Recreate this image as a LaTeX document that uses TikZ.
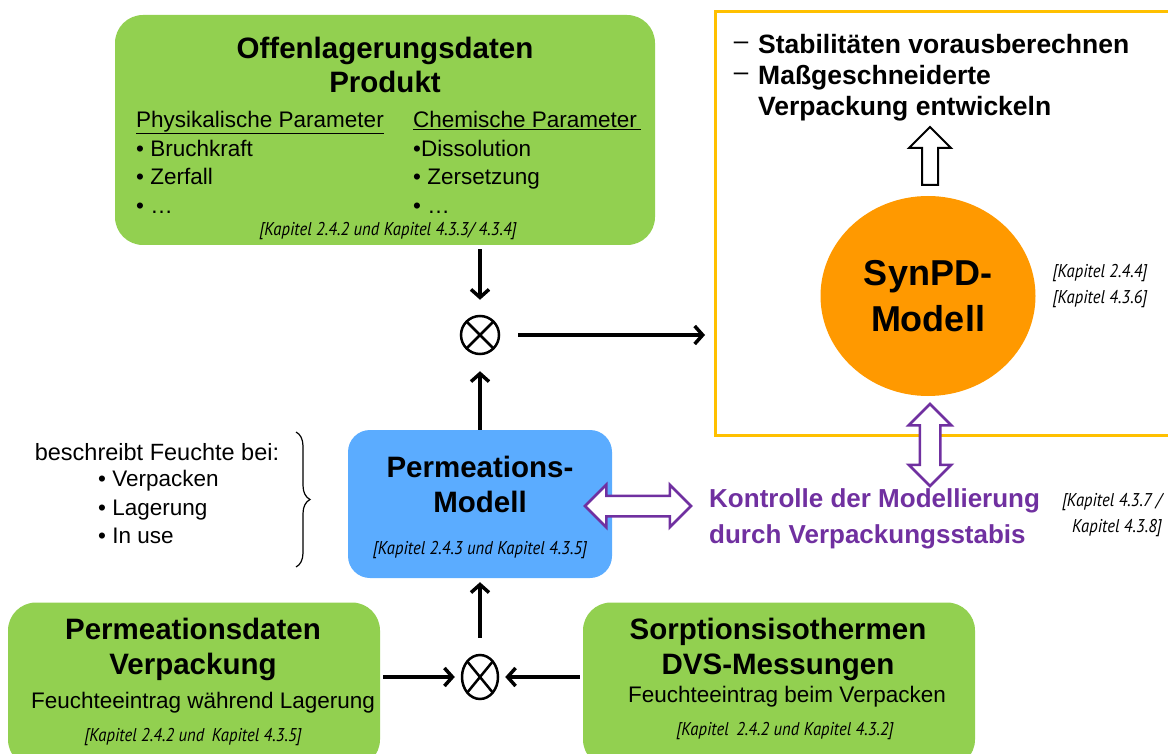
\documentclass[tikz,border=0pt]{standalone}
\usepackage{fontspec}
\setmainfont{Liberation Sans}
\newfontfamily\kapfont{PT Sans}[FakeStretch=0.9]
\usetikzlibrary{arrows.meta,shapes.geometric,shapes.arrows,decorations.pathreplacing}

\definecolor{boxgreen}{RGB}{146,208,80}
\definecolor{boxblue}{RGB}{91,172,255}
\definecolor{synorange}{RGB}{255,153,0}
\definecolor{rahmengelb}{RGB}{255,192,0}
\definecolor{kontrollila}{RGB}{112,48,160}

\tikzset{
	box/.style={rectangle, rounded corners=28pt},
	titel/.style={font=\bfseries\fontsize{29.5}{34}\selectfont, align=center},
	titelgross/.style={font=\bfseries\fontsize{29.5}{35}\selectfont, align=center},
	normal/.style={font=\fontsize{22.5}{28.5}\selectfont},
	kapitel/.style={font=\kapfont\itshape\fontsize{18.5}{26}\selectfont, align=center},
	fluss/.style={line width=3.5pt, -{Straight Barb[length=8pt,width=18pt]}},
	mal/.style={draw, line width=2.5pt, inner sep=0pt,
		path picture={\draw[line width=2.5pt] (path picture bounding box.north west) -- (path picture bounding box.south east)
			(path picture bounding box.north east) -- (path picture bounding box.south west);}},
	hohlpfeil/.style={single arrow, draw, line width=2pt, fill=white, inner sep=7pt, single arrow head extend=13pt},
	lilapfeil/.style={double arrow, draw=kontrollila, line width=2.5pt, fill=white, inner sep=9pt, double arrow head extend=11pt}
}

\begin{document}
\begin{tikzpicture}[x=1pt, y=-1pt]
	\useasboundingbox (0,0) rectangle (1168,754);
	\clip (0,0) rectangle (1168,754);
	% Offenlagerung
	\node[box, fill=boxgreen, minimum width=540pt, minimum height=230pt] (offen) at (385,130) {};
	\node[titel] (offentitel) at (385,65) {Offenlagerungsdaten\\Produkt};
	\node[normal, anchor=north west, inner sep=0pt, align=left] (phys) at (136,111) {\underline{Physikalische Parameter}\\• Bruchkraft\\• Zerfall\\• …};
	\node[normal, anchor=north west, inner sep=0pt, align=left] (chem) at (413,111) {\underline{Chemische Parameter\,}\\•Dissolution\\• Zersetzung\\• …};
	\node[kapitel] (kapoffen) at (388,231) {[Kapitel 2.4.2 und Kapitel 4.3.3/ 4.3.4]};
	% SynPD
	\draw[rahmengelb, line width=3pt] (1172,12) -| (715,435) -- (1172,435);
	\coordinate (rahmenlinks) at (715,335);
	\node[font=\fontsize{26}{31}\selectfont] (strich1) at (741,46) {--};
	\node[font=\fontsize{26}{31}\selectfont] (strich2) at (741,77) {--};
	\node[anchor=north west, inner sep=0pt, font=\bfseries\fontsize{26.5}{31}\selectfont, align=left] (ziele) at (758,34) {Stabilitäten vorausberechnen\\Maßgeschneiderte\\Verpackung entwickeln};
	\node[ellipse, fill=synorange, minimum width=215pt, minimum height=200pt, font=\bfseries\fontsize{36}{46}\selectfont, align=center] (synpd) at (928,296) {SynPD-\\Modell};
	\node[hohlpfeil, rotate=90, anchor=tail, minimum height=58pt] (hoch) at (930,186) {};
	\node[kapitel] (kapsyn) at (1100,286) {[Kapitel 2.4.4]\\{[Kapitel 4.3.6]}};
	% Permeationsmodell
	\node[box, rounded corners=22pt, fill=boxblue, minimum width=264pt, minimum height=148pt] (perm) at (480,504) {};
	\node[titelgross] (permtitel) at (480,484) {Permeations-\\Modell};
	\node[kapitel] (kapperm) at (480,550) {[Kapitel 2.4.3 und Kapitel 4.3.5]};
	\node[font=\fontsize{23.5}{28}\selectfont] (feuchte) at (157,452) {beschreibt Feuchte bei:};
	\node[normal, anchor=north west, inner sep=0pt, align=left] (nutzung) at (98,470) {• Verpacken\\• Lagerung\\• In use};
	\draw[decorate, decoration={brace, amplitude=14pt}, line width=1.2pt] (296,432) -- (296,567);
	% Kontrolle
	\node[lilapfeil, rotate=90, minimum height=82pt] (pfeilsyn) at (930,445) {};
	\node[lilapfeil, minimum height=106pt] (pfeilperm) at (638,506) {};
	\node[anchor=north west, inner sep=0pt, text=kontrollila, font=\bfseries\fontsize{26}{36}\selectfont, align=left] (kontrolle) at (709,488) {Kontrolle der Modellierung\\durch Verpackungsstabis};
	\node[kapitel, align=right, anchor=north east, inner sep=0pt] (kapkontrolle) at (1162,493) {[Kapitel 4.3.7 /\\Kapitel 4.3.8]};
	% Eingangsdaten
	\node[box, fill=boxgreen, minimum width=372pt, minimum height=165pt] (permdaten) at (194,685) {};
	\node[titelgross] (permdatentitel) at (193,649) {Permeationsdaten\\Verpackung};
	\node[normal] (lagerung) at (203,703) {Feuchteeintrag während Lagerung};
	\node[kapitel] (kappermdaten) at (193,737) {[Kapitel 2.4.2 und\, Kapitel 4.3.5]};
	\node[box, fill=boxgreen, minimum width=392pt, minimum height=165pt] (sorption) at (779,685) {};
	\node[titelgross] (sorptiontitel) at (778,649) {Sorptionsisothermen\\DVS-Messungen};
	\node[normal] (verpacken) at (787,697) {Feuchteeintrag beim Verpacken};
	\node[kapitel] (kapsorption) at (785,731) {[Kapitel\, 2.4.2 und Kapitel 4.3.2]};
	% Verknuepfungen
	\node[mal, circle, minimum size=38pt] (maloben) at (480,335) {};
	\node[mal, ellipse, minimum width=36pt, minimum height=44pt] (malunten) at (480,677) {};
	\draw[fluss, shorten <=4pt, shorten >=15pt] (offen.south -| maloben) -- (maloben);
	\draw[fluss, shorten <=18pt, shorten >=10pt] (maloben) -- (rahmenlinks);
	\draw[fluss, shorten >=16pt] (perm) -- (maloben);
	\draw[fluss, shorten <=16pt, shorten >=4pt] (malunten) -- (perm);
	\draw[fluss, shorten <=3pt, shorten >=6pt] (permdaten.east |- malunten) -- (malunten);
	\draw[fluss, shorten <=3pt, shorten >=6pt] (sorption.west |- malunten) -- (malunten);
\end{tikzpicture}
\end{document}
